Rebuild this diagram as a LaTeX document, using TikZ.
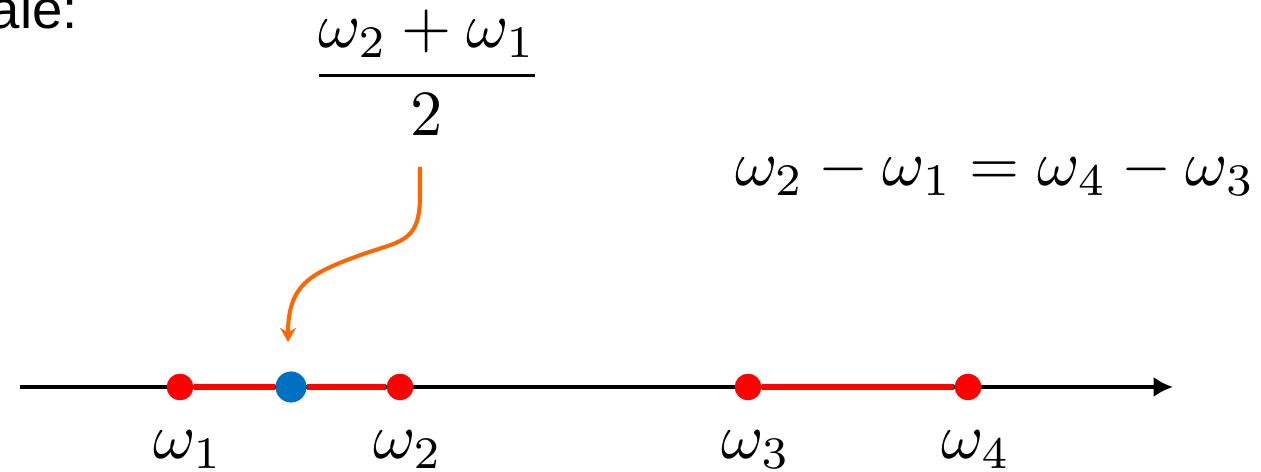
\documentclass[tikz,border=0pt]{standalone}
\usepackage{fontspec}
\newfontfamily\helvfont{Liberation Sans}
\usepackage{tikz}
\usetikzlibrary{arrows.meta, positioning}
\definecolor{segred}{RGB}{255,0,0}
\definecolor{midblue}{RGB}{0,112,192}
\definecolor{avgorange}{RGB}{255,102,0}

\begin{document}
\begin{tikzpicture}[
    x=0.02cm, y=-0.02cm,
    dot/.style={circle, fill=segred, inner sep=0pt, minimum size=15pt},
    middot/.style={circle, fill=midblue, inner sep=0pt, minimum size=17.5pt},
    lbl/.style={scale=3.67, inner sep=0pt, anchor=base},
    axisarr/.style={-{Latex[length=11pt,width=11.5pt]}, line width=2.5pt, black},
    seg/.style={segred, line width=3.2pt},
    pointer/.style={-{Stealth[length=8pt,width=9pt]}, avgorange, line width=2.3pt}
]
\useasboundingbox (0,0) rectangle (1261,472);

% cut-off caption
\node[anchor=base east, inner sep=0pt, font=\helvfont\fontsize{31}{37}\selectfont] (cap) at (78,29) {ale:};

% frequency axis
\coordinate (ax0) at (20,387);
\coordinate (ax1) at (1173,387);
\draw[axisarr] (ax0) -- (ax1);

\node[dot] (w1) at (180,387) {};
\node[middot] (mid) at (291,387) {};
\node[dot] (w2) at (400,387) {};
\node[dot] (w3) at (748,387) {};
\node[dot] (w4) at (968,387) {};

\draw[seg] (w1) -- (mid) -- (w2);
\draw[seg] (w3) -- (w4);
\node[dot] at (w1) {};
\node[dot] at (w2) {};
\node[dot] at (w3) {};
\node[dot] at (w4) {};
\node[middot] at (mid) {};

\node[lbl] (l1) at (188,459) {$\omega_1$};
\node[lbl] (l2) at (408,459) {$\omega_2$};
\node[lbl] (l3) at (756,459) {$\omega_3$};
\node[lbl] (l4) at (976,459) {$\omega_4$};

% labels on top
\node[lbl, anchor=center] (avg) at (427,73) {$\displaystyle\frac{\omega_2+\omega_1}{2}$};
\node[lbl] (eq) at (995,186) {$\omega_2-\omega_1=\omega_4-\omega_3$};

\coordinate (p0) at (420,167);
\coordinate (p1) at (288,342);
\draw[pointer] (p0) -- (420,195) .. controls (420,245) and (400,240) .. (355,257)
    .. controls (310,274) and (288,285) .. (p1);
\end{tikzpicture}
\end{document}
